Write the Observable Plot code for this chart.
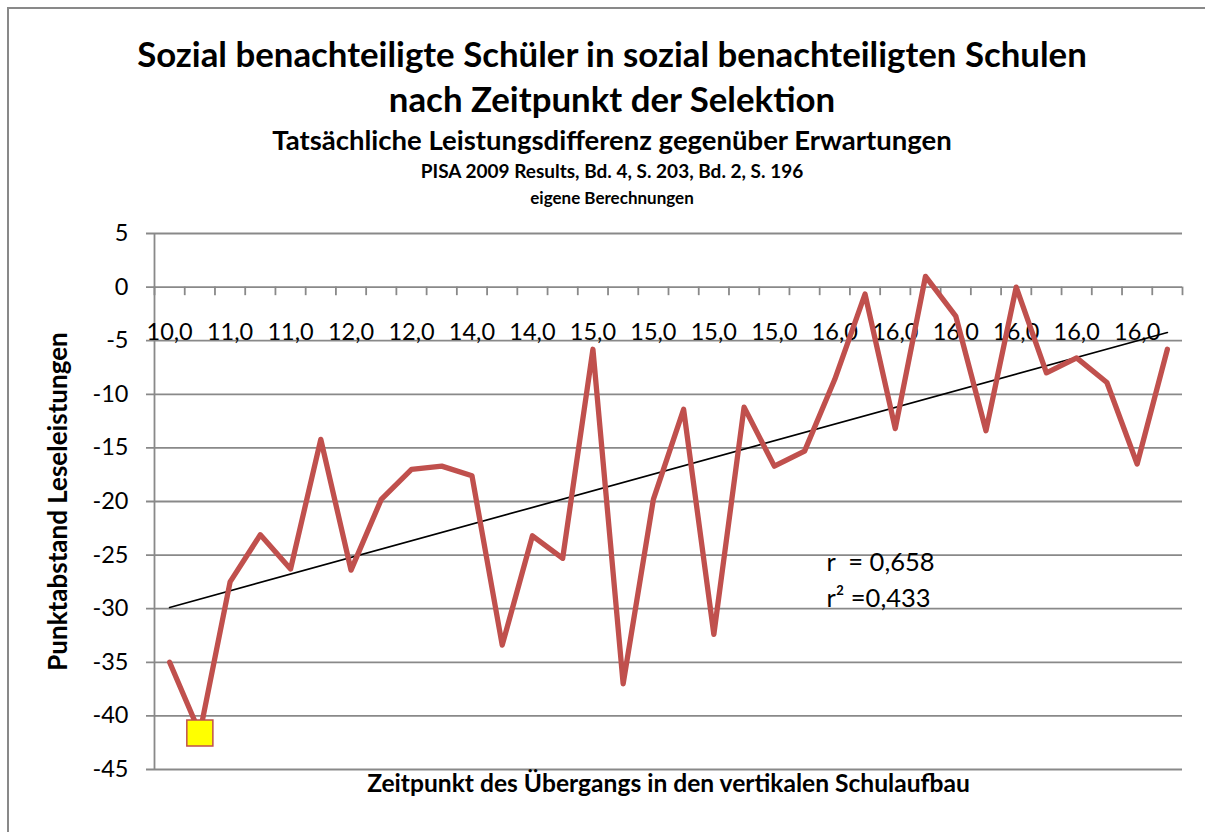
<!DOCTYPE html>
<html><head><meta charset="utf-8">
<script src="https://cdn.jsdelivr.net/npm/d3@7"></script>
<script src="https://cdn.jsdelivr.net/npm/@observablehq/plot@0.6"></script>
<style>
body{margin:0;background:#fff;overflow:hidden;}
#wrap{position:relative;width:1205px;height:832px;overflow:hidden;font-family:Lato,"Open Sans",sans-serif;color:#000;background:#fff;}
#border{position:absolute;left:7px;top:7px;width:1400px;height:1000px;border-left:2px solid #898989;border-top:2px solid #898989;}
#header{position:relative;height:215px;}
.t{position:absolute;left:0;width:1224px;text-align:center;font-weight:bold;white-space:nowrap;}
#t1{top:31px;font-size:34.8px;line-height:45px;}
#t2{top:76px;font-size:34.8px;line-height:45px;}
#t3{top:126px;font-size:27.5px;line-height:28px;}
#t4{top:157px;font-size:19px;line-height:28px;}
#t5{top:184px;font-size:17px;line-height:28px;}
#plot{position:absolute;left:0;top:215px;}
#plot text{white-space:pre;}
</style></head><body>
<div id="wrap">
  <div id="border"></div>
  <div id="header">
    <div class="t" id="t1">Sozial benachteiligte Schüler in sozial benachteiligten Schulen</div>
    <div class="t" id="t2">nach Zeitpunkt der Selektion</div>
    <div class="t" id="t3">Tatsächliche Leistungsdifferenz gegenüber Erwartungen</div>
    <div class="t" id="t4">PISA 2009 Results, Bd. 4, S. 203, Bd. 2, S. 196</div>
    <div class="t" id="t5">eigene Berechnungen</div>
  </div>
  <div id="plot"></div>
</div>
<script>
// ---- data ----
const xTickLabels = ["10,0","11,0","11,0","12,0","12,0","14,0","14,0","15,0","15,0","15,0","15,0","16,0","16,0","16,0","16,0","16,0","16,0"];
const values = [-35.0,-41.6,-27.5,-23.1,-26.3,-14.2,-26.4,-19.8,-17.0,-16.7,-17.6,-33.4,-23.2,-25.3,-5.8,-37.0,-19.8,-11.4,-32.4,-11.2,-16.7,-15.3,-8.6,-0.65,-13.2,1.0,-2.7,-13.4,0.0,-8.0,-6.6,-8.9,-16.5,-5.8];
const yTicks = [5,0,-5,-10,-15,-20,-25,-30,-35,-40,-45];
const highlighted = [1];
const stats = ["r  = 0,658", "r² =0,433"];
const yTitle = "Punktabstand Leseleistungen";
const xTitle = "Zeitpunkt des Übergangs in den vertikalen Schulaufbau";

const data = values.map((v, i) => ({i, v}));
const labelData = xTickLabels.map((t, k) => ({i: 2 * k, t}));
const boundaries = d3.range(-0.5, values.length, 1);
const gray = "#898989";

const chart = Plot.plot({
  width: 1205, height: 617,
  marginLeft: 154, marginRight: 23, marginTop: 18, marginBottom: 63,
  style: {fontFamily: "Lato, 'Open Sans', sans-serif", fontSize: "23px", color: "#000", background: "transparent"},
  x: {type: "linear", domain: [-0.5, values.length - 0.5], axis: null},
  y: {domain: [-45, 5], axis: null},
  marks: [
    Plot.ruleY(yTicks, {stroke: gray, strokeWidth: 1.8, insetLeft: -8}),
    Plot.ruleX([-0.5], {stroke: gray, strokeWidth: 1.8}),
    Plot.ruleX(boundaries, {y1: 0, y2: -0.8, stroke: gray, strokeWidth: 1.8}),
    Plot.text(yTicks, {frameAnchor: "left", y: d => d, text: d => String(d), textAnchor: "end", dx: -26, fontSize: 23.5, fill: "#000"}),
    Plot.text(labelData, {x: "i", y: 0, text: "t", dy: 45, fontSize: 23.5, fill: "#000"}),
    Plot.linearRegressionY(data, {x: "i", y: "v", stroke: "#000", strokeWidth: 1.7, ci: 0}),
    Plot.line(data, {x: "i", y: "v", stroke: "#C0504D", strokeWidth: 5.3, strokeLinejoin: "round", strokeLinecap: "round"}),
    Plot.dot(highlighted, {x: d => d, y: d => values[d], symbol: "square", r: 14.7, fill: "#FFFF00", stroke: "#C0504D", strokeWidth: 1.5}),
    Plot.text([stats.join("\n")], {frameAnchor: "top-left", dx: 672, dy: 344, textAnchor: "start", lineAnchor: "middle", lineHeight: 1.4, fontSize: 25.5, fill: "#000"}),
    Plot.text([yTitle], {frameAnchor: "left", rotate: -90, dx: -96, textAnchor: "middle", fontSize: 26, fontWeight: "bold", fill: "#000"}),
    Plot.text([xTitle], {frameAnchor: "bottom", dy: 22, textAnchor: "middle", fontSize: 24.6, fontWeight: "bold", fill: "#000"})
  ]
});
document.getElementById("plot").appendChild(chart);
</script>
</body></html>
